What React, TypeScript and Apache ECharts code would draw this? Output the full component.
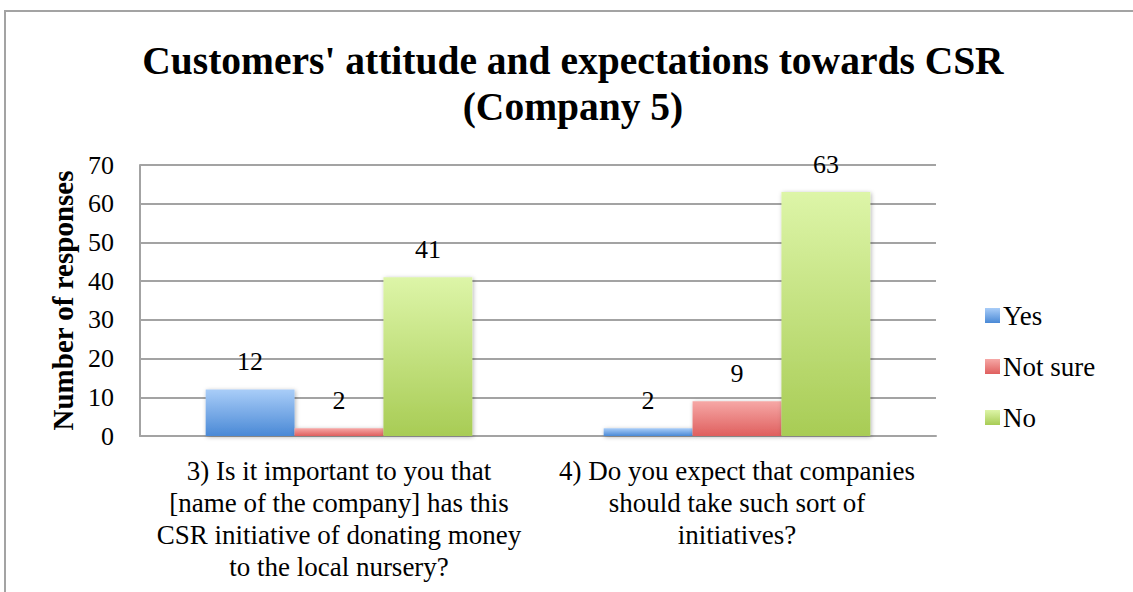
import React, { useEffect, useRef } from "react";
import * as echarts from "echarts";

const categories = [
  "3) Is it important to you that\n[name of the company] has this\nCSR initiative of donating money\nto the local nursery?",
  "4) Do you expect that companies\nshould take such sort of\ninitiatives?",
];
const seriesNames = ["Yes", "Not sure", "No"];
const yesValues = [12, 2];
const notSureValues = [2, 9];
const noValues = [41, 63];
const yTicks = { min: 0, max: 70, interval: 10 };

const FONT = "'Liberation Serif', 'Times New Roman', serif";

function grad(top: string, bottom: string) {
  return new echarts.graphic.LinearGradient(0, 0, 0, 1, [
    { offset: 0, color: top },
    { offset: 1, color: bottom },
  ]);
}

export default function App() {
  const ref = useRef<HTMLDivElement>(null);
  useEffect(() => {
    if (!ref.current) return;
    const chart = echarts.init(ref.current, undefined, { renderer: "svg" });
    const colors = [
      grad("#a9cdf8", "#4a89d6"),
      grad("#f6a8a6", "#df5f5e"),
      grad("#ddf5a8", "#a8cc55"),
    ];
    const values = [yesValues, notSureValues, noValues];
    chart.setOption({
      animation: false,
      backgroundColor: "#ffffff",
      textStyle: { fontFamily: FONT },
      graphic: [
        {
          type: "rect",
          shape: { x: 5, y: 11, width: 1140, height: 600 },
          style: { fill: "none", stroke: "#a3a3a3", lineWidth: 2 },
          silent: true,
        },
      ],
      title: {
        text: "Customers' attitude and expectations towards CSR\n(Company 5)",
        left: 568,
        textAlign: "center",
        top: 33,
        textStyle: {
          fontFamily: FONT,
          fontWeight: "bold",
          fontSize: 39.5,
          lineHeight: 46,
          color: "#000",
        },
      },
      legend: {
        orient: "vertical",
        left: 985,
        top: 302,
        padding: 0,
        itemWidth: 15,
        itemHeight: 15,
        itemGap: 24,
        icon: "rect",
        data: seriesNames,
        textStyle: { fontFamily: FONT, fontSize: 27, color: "#000", padding: [0, 0, 0, -2] },
      },
      grid: { left: 140, right: 197, top: 165, bottom: 156, containLabel: false },
      xAxis: {
        type: "category",
        data: categories,
        axisLine: { show: true, lineStyle: { color: "#a3a3a3", width: 2 } },
        axisTick: { show: false },
        axisLabel: {
          fontFamily: FONT,
          fontSize: 27,
          color: "#000",
          lineHeight: 32,
          margin: 19,
          interval: 0,
        },
      },
      yAxis: {
        type: "value",
        min: yTicks.min,
        max: yTicks.max,
        interval: yTicks.interval,
        name: "Number of responses",
        nameLocation: "middle",
        nameGap: 63,
        nameTextStyle: { fontFamily: FONT, fontSize: 29, fontWeight: "bold", color: "#000" },
        axisLine: { show: true, lineStyle: { color: "#a3a3a3", width: 2 } },
        axisTick: { show: false },
        axisLabel: { fontFamily: FONT, fontSize: 26, color: "#000", margin: 26 },
        splitLine: { show: true, lineStyle: { color: "#a3a3a3", width: 2 } },
      },
      series: seriesNames.map((name, i) => ({
        name,
        type: "bar",
        data: values[i],
        barGap: "0%",
        barCategoryGap: "33%",
        itemStyle: {
          color: colors[i],
          shadowBlur: 4,
          shadowColor: "rgba(0,0,0,0.3)",
          shadowOffsetX: 1,
          shadowOffsetY: 1,
        },
        label: {
          show: true,
          position: "top",
          distance: 15,
          fontFamily: FONT,
          fontSize: 26,
          color: "#000",
        },
      })),
    });
    return () => chart.dispose();
  }, []);
  return (
    <div
      ref={ref}
      style={{ position: "fixed", left: 0, top: 0, width: 1133, height: 592 }}
    />
  );
}
